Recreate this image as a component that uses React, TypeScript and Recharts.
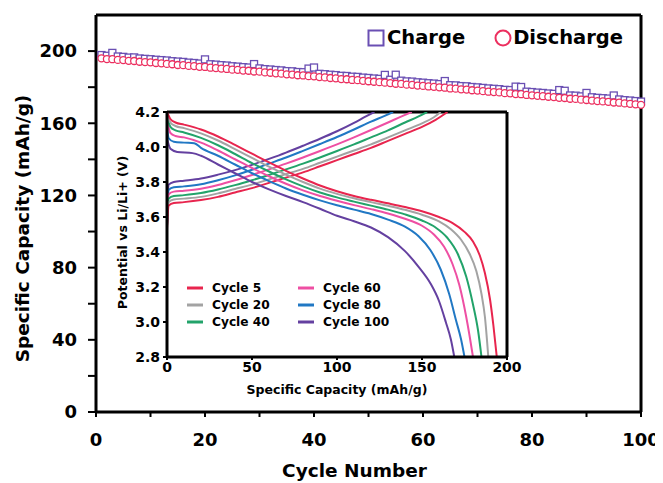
import React from 'react';
import { ComposedChart, LineChart, Line, Scatter, XAxis, YAxis, ReferenceLine } from 'recharts';

const cycles: number[] = Array.from({ length: 100 }, (_, i) => i + 1);

const chargeCap: number[] = [
  197.8, 197.4, 199.0, 197.0, 196.8, 196.4, 196.5, 195.9, 195.7, 195.5,
  195.2, 195.0, 194.8, 194.4, 194.2, 194.0, 193.6, 193.4, 193.1, 195.4,
  192.7, 192.5, 192.2, 192.0, 191.6, 191.4, 191.1, 190.9, 192.8, 190.4,
  190.0, 189.8, 189.5, 189.3, 188.9, 188.8, 188.4, 188.3, 190.3, 190.9,
  187.4, 187.2, 186.9, 186.7, 186.3, 186.2, 185.8, 185.7, 185.3, 185.1,
  184.8, 184.6, 186.8, 184.1, 186.9, 183.6, 183.2, 183.1, 182.7, 182.5,
  182.2, 182.0, 181.7, 183.4, 181.1, 181.0, 180.6, 180.5, 180.1, 179.9,
  179.6, 179.3, 179.1, 178.9, 178.5, 178.4, 180.3, 180.1, 177.5, 177.3,
  177.0, 176.8, 176.5, 176.3, 178.4, 178.0, 175.4, 175.3, 174.9, 176.8,
  174.4, 174.1, 173.9, 173.7, 175.4, 173.2, 172.8, 172.6, 172.3, 172.0,
];

const dischargeCap: number[] = [
  196.0, 195.6, 195.5, 195.1, 195.0, 194.6, 194.5, 194.1, 193.9, 193.8,
  193.4, 193.2, 192.9, 192.7, 192.3, 192.2, 191.8, 191.7, 191.3, 191.2,
  190.8, 190.6, 190.3, 190.1, 189.7, 189.6, 189.2, 189.1, 188.7, 188.6,
  188.2, 188.0, 187.7, 187.5, 187.1, 187.0, 186.6, 186.5, 186.1, 186.0,
  185.6, 185.4, 185.1, 184.9, 184.5, 184.4, 184.0, 183.9, 183.5, 183.3,
  183.0, 182.8, 182.5, 182.3, 181.9, 181.8, 181.4, 181.3, 180.9, 180.7,
  180.4, 180.2, 179.9, 179.7, 179.3, 179.2, 178.8, 178.7, 178.3, 178.1,
  177.8, 177.5, 177.3, 177.1, 176.7, 176.6, 176.2, 176.1, 175.7, 175.5,
  175.2, 175.0, 174.7, 174.5, 174.1, 174.0, 173.6, 173.5, 173.1, 172.9,
  172.6, 172.3, 172.1, 171.9, 171.5, 171.4, 171.0, 170.8, 170.5, 170.2,
];

const mainXTicks: number[] = [0, 10, 20, 30, 40, 50, 60, 70, 80, 90, 100];
const mainYTicks: number[] = [0, 20, 40, 60, 80, 100, 120, 140, 160, 180, 200];

const insetXTicks: number[] = [0, 50, 100, 150, 200];
const insetYTicks: number[] = [2.8, 3.0, 3.2, 3.4, 3.6, 3.8, 4.0, 4.2];

// [capacity, voltage]
const c5Charge: number[][] = [[0,3.53],[1,3.665],[4,3.68],[10,3.685],[20,3.697],[30,3.715],[40,3.74],[50,3.765],[60,3.795],[70,3.825],[80,3.855],[90,3.89],[100,3.925],[110,3.96],[120,3.995],[130,4.035],[140,4.075],[150,4.115],[158,4.155],[165,4.2]];
const c20Charge: number[][] = [[0,3.54],[1,3.685],[4,3.70],[10,3.705],[20,3.715],[30,3.735],[40,3.76],[50,3.785],[60,3.815],[70,3.845],[80,3.875],[90,3.91],[100,3.945],[110,3.98],[120,4.015],[130,4.055],[140,4.095],[150,4.135],[157,4.17],[161,4.2]];
const c40Charge: number[][] = [[0,3.55],[1,3.705],[4,3.72],[10,3.725],[20,3.737],[30,3.757],[40,3.782],[50,3.81],[60,3.84],[70,3.872],[80,3.905],[90,3.94],[100,3.977],[110,4.015],[120,4.055],[130,4.095],[140,4.14],[148,4.175],[153,4.2]];
const c60Charge: number[][] = [[0,3.55],[1,3.73],[4,3.745],[10,3.75],[20,3.762],[30,3.783],[40,3.81],[50,3.84],[60,3.872],[70,3.905],[80,3.94],[90,3.977],[100,4.015],[110,4.055],[120,4.097],[130,4.14],[138,4.175],[144,4.2]];
const c80Charge: number[][] = [[0,3.55],[1,3.755],[4,3.77],[10,3.775],[20,3.787],[30,3.81],[40,3.838],[50,3.87],[60,3.905],[70,3.94],[80,3.978],[90,4.017],[100,4.057],[110,4.1],[120,4.145],[128,4.178],[133,4.2]];
const c100Charge: number[][] = [[0,3.56],[1,3.785],[4,3.80],[10,3.807],[20,3.82],[30,3.842],[40,3.868],[50,3.898],[60,3.932],[70,3.968],[80,4.007],[90,4.047],[100,4.09],[110,4.138],[117,4.175],[122,4.2]];

const c5Dis: number[][] = [[0,4.2],[2,4.16],[5,4.14],[10,4.128],[20,4.1],[30,4.06],[40,4.012],[50,3.962],[60,3.912],[70,3.864],[80,3.82],[90,3.78],[100,3.747],[110,3.72],[120,3.698],[130,3.678],[140,3.657],[150,3.633],[160,3.6],[168,3.565],[175,3.515],[180,3.46],[184,3.38],[187,3.28],[190,3.13],[192,2.98],[194,2.8]];
const c20Dis: number[][] = [[0,4.19],[2,4.14],[5,4.12],[10,4.108],[20,4.078],[30,4.037],[40,3.988],[50,3.938],[60,3.888],[70,3.842],[80,3.8],[90,3.762],[100,3.732],[110,3.707],[120,3.685],[130,3.664],[140,3.641],[150,3.613],[160,3.575],[167,3.53],[173,3.47],[178,3.39],[182,3.29],[185,3.16],[187,3.03],[189,2.8]];
const c40Dis: number[][] = [[0,4.18],[2,4.115],[5,4.095],[10,4.083],[20,4.052],[30,4.01],[40,3.96],[50,3.908],[60,3.86],[70,3.815],[80,3.775],[90,3.74],[100,3.712],[110,3.688],[120,3.665],[130,3.642],[140,3.615],[150,3.58],[158,3.54],[165,3.48],[171,3.39],[176,3.26],[180,3.1],[183,2.95],[185,2.8]];
const c60Dis: number[][] = [[0,4.16],[2,4.08],[5,4.063],[10,4.055],[20,4.025],[30,3.98],[40,3.93],[50,3.88],[60,3.833],[70,3.79],[80,3.752],[90,3.72],[100,3.693],[110,3.668],[120,3.645],[130,3.62],[140,3.59],[150,3.55],[157,3.5],[163,3.43],[168,3.33],[172,3.21],[176,3.03],[178,2.92],[180,2.8]];
const c80Dis: number[][] = [[0,4.12],[1,4.05],[4,4.03],[10,4.025],[16,4.022],[20,3.995],[30,3.95],[40,3.9],[50,3.85],[60,3.805],[70,3.763],[80,3.727],[90,3.695],[100,3.667],[110,3.642],[120,3.617],[130,3.585],[140,3.545],[148,3.49],[155,3.41],[161,3.3],[166,3.16],[170,3.01],[173,2.9],[175,2.8]];
const c100Dis: number[][] = [[0,4.05],[2,3.99],[6,3.972],[15,3.965],[20,3.95],[30,3.9],[40,3.85],[50,3.8],[60,3.758],[70,3.72],[80,3.685],[90,3.647],[100,3.607],[110,3.576],[120,3.54],[130,3.485],[140,3.405],[148,3.315],[155,3.22],[160,3.12],[164,3.0],[167,2.9],[169,2.8]];

const cycleNames: string[] = ['Cycle 5', 'Cycle 20', 'Cycle 40', 'Cycle 60', 'Cycle 80', 'Cycle 100'];
const cycleColors: string[] = ['#e8254e', '#a3a3a3', '#22a36a', '#ee4fa3', '#2178c4', '#6440a0'];
const chargeCurves: number[][][] = [c5Charge, c20Charge, c40Charge, c60Charge, c80Charge, c100Charge];
const dischargeCurves: number[][][] = [c5Dis, c20Dis, c40Dis, c60Dis, c80Dis, c100Dis];

const FONT = '"DejaVu Sans", Verdana, sans-serif';
const CHARGE_COLOR = '#6a4fb3';
const DIS_COLOR = '#ec2f5f';

const chargeData = cycles.map((c, i) => ({ c, v: chargeCap[i] }));
const dischargeData = cycles.map((c, i) => ({ c, v: dischargeCap[i] }));
const toPts = (arr: number[][]) => arr.map(([x, y]) => ({ x, y }));

const SquareShape = (props: any) => {
  const { cx, cy } = props;
  if (cx == null || cy == null) return null;
  return <rect x={cx - 3.5} y={cy - 3.5} width={7} height={7} fill="#fff" stroke={CHARGE_COLOR} strokeWidth={1.3} />;
};
const CircleShape = (props: any) => {
  const { cx, cy } = props;
  if (cx == null || cy == null) return null;
  return <circle cx={cx} cy={cy} r={3.5} fill="#fff" stroke={DIS_COLOR} strokeWidth={1.3} />;
};

const VLabel = (props: any) => {
  const { viewBox, value, px, fontSize, dy = 0 } = props;
  const cy = viewBox.y + viewBox.height / 2 + dy;
  return (
    <text x={px} y={cy} transform={`rotate(-90 ${px} ${cy})`} textAnchor="middle" dominantBaseline="central"
      fontFamily={FONT} fontWeight="bold" fontSize={fontSize} fill="#000">{value}</text>
  );
};
const HLabel = (props: any) => {
  const { viewBox, value, py, fontSize, dx = 0 } = props;
  const cx = viewBox.x + viewBox.width / 2 + dx;
  return (
    <text x={cx} y={py} textAnchor="middle" fontFamily={FONT} fontWeight="bold" fontSize={fontSize} fill="#000">{value}</text>
  );
};

const MainLegend = () => (
  <div style={{ display: 'flex', alignItems: 'center', fontFamily: FONT, fontWeight: 'bold', fontSize: 19.5, color: '#000', lineHeight: '23px' }}>
    <svg width={18} height={18} style={{ marginRight: 2 }}>
      <rect x={1.5} y={1.5} width={15} height={15} fill="#fff" stroke={CHARGE_COLOR} strokeWidth={2} />
    </svg>
    <span>Charge</span>
    <svg width={18} height={18} style={{ marginLeft: 29, marginRight: 1 }}>
      <circle cx={9} cy={9} r={7.5} fill="#fff" stroke={DIS_COLOR} strokeWidth={2} />
    </svg>
    <span>Discharge</span>
  </div>
);

const InsetLegend = () => {
  const cols = [[0, 1, 2], [3, 4, 5]];
  return (
    <div style={{ display: 'flex', fontFamily: FONT, fontWeight: 'bold', fontSize: 12.2, color: '#000' }}>
      {cols.map((col, ci) => (
        <div key={ci} style={{ width: 111 }}>
          {col.map((k) => (
            <div key={k} style={{ display: 'flex', alignItems: 'center', height: 17 }}>
              <svg width={16} height={6} style={{ marginRight: 9 }}>
                <line x1={0} y1={3} x2={16} y2={3} stroke={cycleColors[k]} strokeWidth={3} />
              </svg>
              <span>{cycleNames[k]}</span>
            </div>
          ))}
        </div>
      ))}
    </div>
  );
};

const axisLine = { stroke: '#000', strokeWidth: 3 };
const tickLine = { stroke: '#000', strokeWidth: 2 };

export default function App() {
  return (
    <div style={{ position: 'relative', width: 655, height: 475, background: '#fff' }}>
      <ComposedChart width={655} height={475} margin={{ top: 7, right: 22, bottom: 0, left: 0 }}>
        <XAxis dataKey="c" type="number" domain={[0, 100]} ticks={mainXTicks} interval={0}
          tickFormatter={(v: number) => (v % 20 === 0 ? String(v) : '')}
          height={71} tickSize={5} tickMargin={16} axisLine={axisLine} tickLine={tickLine}
          tick={{ fill: '#000', fontFamily: FONT, fontWeight: 'bold', fontSize: 18 }}
          label={<HLabel value="Cycle Number" py={469} fontSize={18.5} dx={-14} />} />
        <YAxis dataKey="v" type="number" domain={[0, 220]} ticks={mainYTicks} interval={0} allowDataOverflow
          tickFormatter={(v: number) => (v % 40 === 0 ? String(v) : '')}
          width={88} tickSize={8} tickMargin={11} axisLine={axisLine} tickLine={tickLine}
          tick={{ fill: '#000', fontFamily: FONT, fontWeight: 'bold', fontSize: 18 }}
          label={<VLabel value="Specific Capacity (mAh/g)" px={14} fontSize={18.5} dy={15} />} />
        <ReferenceLine y={220} stroke="#000" strokeWidth={3} ifOverflow="visible" />
        <ReferenceLine x={100} stroke="#000" strokeWidth={3} ifOverflow="visible" />
        <Scatter name="Charge" data={chargeData} shape={<SquareShape />} isAnimationActive={false} />
        <Scatter name="Discharge" data={dischargeData} shape={<CircleShape />} isAnimationActive={false} />
      </ComposedChart>

      <div style={{ position: 'absolute', left: 359, top: 18 }}>
        <MainLegend />
      </div>

      <div style={{ position: 'absolute', left: 102, top: 96, width: 422, height: 293 }}>
        <LineChart width={422} height={293} margin={{ top: 8, right: 25, bottom: 0, left: 0 }}>
          <XAxis dataKey="x" type="number" domain={[0, 200]} ticks={insetXTicks} interval={0} allowDataOverflow
            height={40} tickSize={3} tickMargin={2} axisLine={axisLine} tickLine={tickLine}
            tick={{ fill: '#000', fontFamily: FONT, fontWeight: 'bold', fontSize: 14 }}
            label={<HLabel value="Specific Capacity (mAh/g)" py={290} fontSize={12.5} />} />
          <YAxis dataKey="y" type="number" domain={[2.8, 4.2]} ticks={insetYTicks} interval={0} allowDataOverflow
            tickFormatter={(v: number) => v.toFixed(1)}
            width={57} tickSize={4} tickMargin={3} axisLine={axisLine} tickLine={tickLine}
            tick={{ fill: '#000', fontFamily: FONT, fontWeight: 'bold', fontSize: 14 }}
            label={<VLabel value="Potential vs Li/Li+ (V)" px={12} fontSize={12.5} dy={-2} />} />
          <ReferenceLine y={4.2} stroke="#000" strokeWidth={3} ifOverflow="visible" />
          <ReferenceLine x={200} stroke="#000" strokeWidth={3} ifOverflow="visible" />
          {[5, 4, 3, 2, 1, 0].map((k) => (
            <Line key={'c' + k} data={toPts(chargeCurves[k])} dataKey="y" type="monotone" stroke={cycleColors[k]}
              strokeWidth={2} dot={false} isAnimationActive={false} legendType="none" />
          ))}
          {[5, 4, 3, 2, 1, 0].map((k) => (
            <Line key={'d' + k} data={toPts(dischargeCurves[k])} dataKey="y" type="monotone" stroke={cycleColors[k]}
              strokeWidth={2} dot={false} isAnimationActive={false} legendType="none" />
          ))}
        </LineChart>
      </div>

      <div style={{ position: 'absolute', left: 179, top: 271 }}>
        <InsetLegend />
      </div>
    </div>
  );
}
